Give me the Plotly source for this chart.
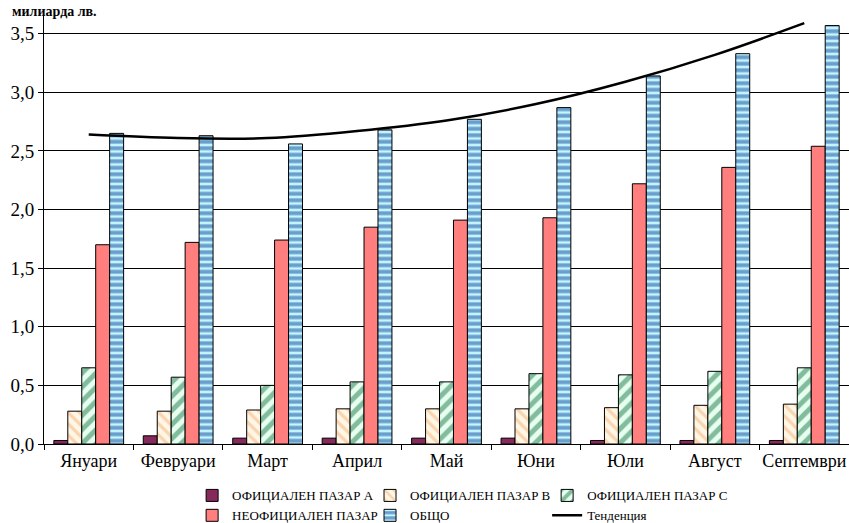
import plotly.graph_objects as go

months = ["Януари", "Февруари", "Март", "Април", "Май", "Юни", "Юли", "Август", "Септември"]
market_a = [0.03, 0.07, 0.05, 0.05, 0.05, 0.05, 0.03, 0.03, 0.03]
market_b = [0.28, 0.28, 0.29, 0.30, 0.30, 0.30, 0.31, 0.33, 0.34]
market_c = [0.65, 0.57, 0.50, 0.53, 0.53, 0.60, 0.59, 0.62, 0.65]
unofficial = [1.70, 1.72, 1.74, 1.85, 1.91, 1.93, 2.22, 2.36, 2.54]
total = [2.65, 2.63, 2.56, 2.68, 2.77, 2.87, 3.14, 3.33, 3.57]
trend = [2.64, 2.61, 2.61, 2.67, 2.76, 2.90, 3.09, 3.32, 3.59]
y_ticks = [0, 0.5, 1.0, 1.5, 2.0, 2.5, 3.0, 3.5]

FONT = "Liberation Serif, Times New Roman, serif"
outline = dict(color="black", width=1)

fig = go.Figure()
fig.add_trace(go.Bar(name="ОФИЦИАЛЕН ПАЗАР А", x=months, y=market_a, legend="legend", legendgroup="a",
                     marker=dict(color="#862A5C", line=outline)))
fig.add_trace(go.Bar(name="ОФИЦИАЛЕН ПАЗАР B", x=months, y=market_b, legend="legend2", legendgroup="b",
                     marker=dict(color="#FFF6E6", line=outline,
                                 pattern=dict(shape="\\", fgcolor="#F2B47A", bgcolor="#FFF6E6",
                                              size=8, solidity=0.4))))
fig.add_trace(go.Bar(name="ОФИЦИАЛЕН ПАЗАР C", x=months, y=market_c, legend="legend3", legendgroup="c",
                     marker=dict(color="#E6FFF0", line=outline,
                                 pattern=dict(shape="/", fgcolor="#1E7A48", bgcolor="#E6FFF0",
                                              size=10, solidity=0.5))))
fig.add_trace(go.Bar(name="НЕОФИЦИАЛЕН ПАЗАР", x=months, y=unofficial, legend="legend", legendgroup="d",
                     marker=dict(color="#FF7F7F", line=outline)))
fig.add_trace(go.Bar(name="ОБЩО", x=months, y=total, legend="legend2", legendgroup="e",
                     marker=dict(color="#C6F4FF", line=outline,
                                 pattern=dict(shape="-", fgcolor="#0B4A99", bgcolor="#C6F4FF",
                                              size=6.5, solidity=0.6))))
fig.add_trace(go.Scatter(name="Тенденция", x=months, y=trend, mode="lines", legend="legend3",
                         legendgroup="f",
                         line=dict(color="black", width=2.5, shape="spline", smoothing=1.0)))

leg_common = dict(orientation="v", y=-0.085, yanchor="top", xanchor="left",
                  font=dict(family=FONT, size=13, color="black"),
                  bgcolor="rgba(0,0,0,0)", traceorder="normal", itemwidth=30,
                  tracegroupgap=5)

fig.update_layout(
    width=849, height=523,
    margin=dict(l=44, r=0, t=15, b=79, autoexpand=False),
    paper_bgcolor="white", plot_bgcolor="white",
    font=dict(family=FONT, size=19, color="black"),
    separators=", ",
    barmode="group", bargap=0.22, bargroupgap=0,
    showlegend=True,
    legend=dict(x=0.184, **leg_common),
    legend2=dict(x=0.405, **leg_common),
    legend3=dict(x=0.625, **leg_common),
    annotations=[dict(text="<b>милиарда лв.</b>", xref="paper", yref="paper",
                      x=-0.0422, y=1.007, xanchor="left", yanchor="middle",
                      showarrow=False, font=dict(family=FONT, size=14, color="black"))],
)
fig.update_xaxes(type="category", showline=True, linecolor="black", linewidth=1,
                 ticks="outside", tickson="boundaries", ticklen=5, tickcolor="black",
                 tickangle=0, showgrid=False, tickfont=dict(family=FONT, size=18),
                 automargin=False)
fig.update_yaxes(range=[0, 3.66], tickvals=y_ticks, tickformat=".1f",
                 showline=True, linecolor="black", linewidth=1,
                 ticks="outside", ticklen=5, tickcolor="black",
                 showgrid=True, gridcolor="black", gridwidth=1, zeroline=False,
                 tickfont=dict(family=FONT, size=19), automargin=False)

fig.write_html("out.html", config={"displayModeBar": False},
               post_script="document.body.style.margin='0px';")
